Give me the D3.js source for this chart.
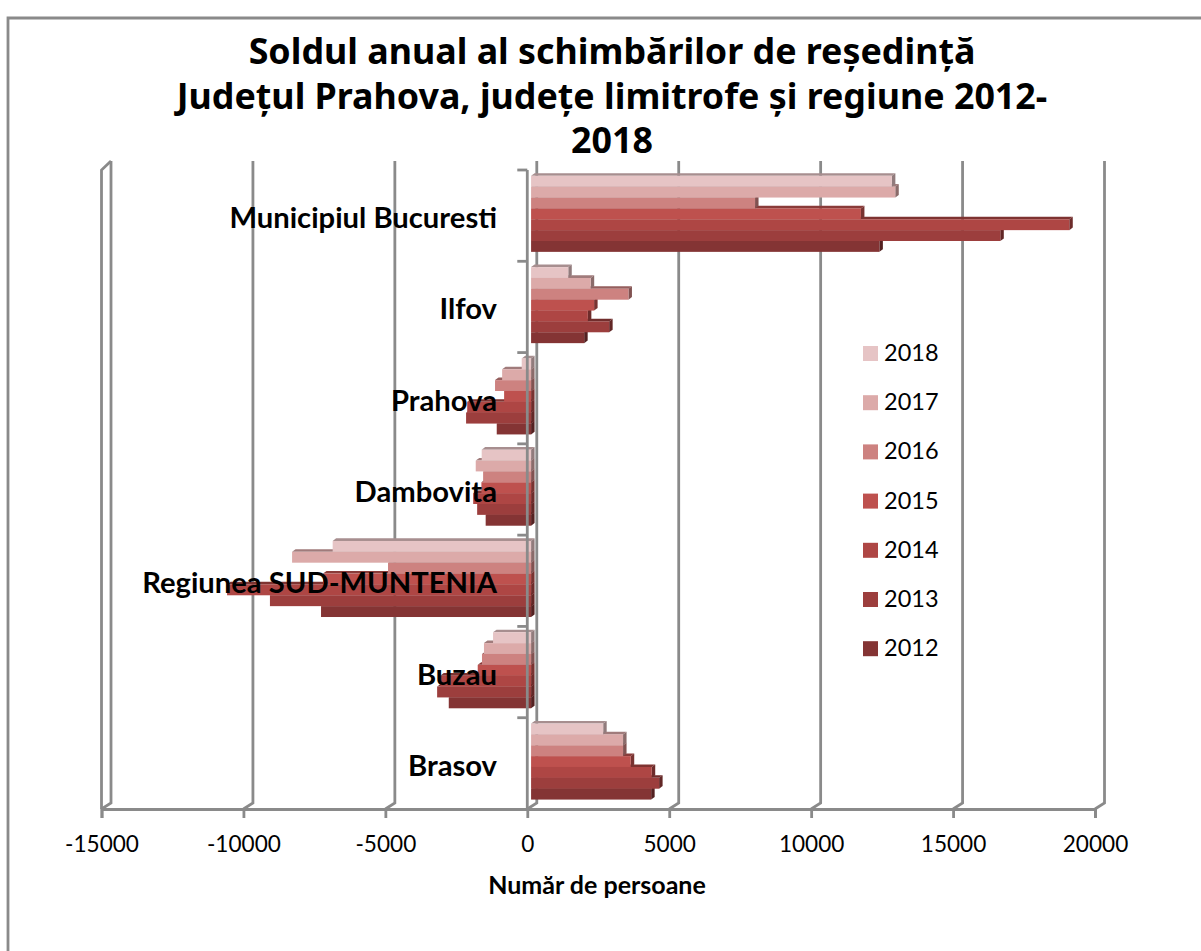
<!DOCTYPE html>
<html>
<head>
<meta charset="utf-8">
<script src="https://cdn.jsdelivr.net/npm/d3@7"></script>
<style>
  html, body { margin: 0; padding: 0; background: #fff; overflow: hidden; }
  svg { display: block; }
  text { fill: #000; }
</style>
</head>
<body>
<div id="chart"></div>
<script>
const categories = ['Municipiul Bucuresti', 'Ilfov', 'Prahova', 'Dambovita', 'Regiunea SUD-MUNTENIA', 'Buzau', 'Brasov']
const years = [2018, 2017, 2016, 2015, 2014, 2013, 2012]
const values2018 = [12710, 1310, -330, -1740, -6990, -1340, 2540]
const values2017 = [12830, 2100, -1020, -1950, -8420, -1660, 3240]
const values2016 = [7890, 3430, -1270, -1690, -5040, -1730, 3240]
const values2015 = [11620, 2220, -950, -1750, -7330, -1880, 3510]
const values2014 = [18960, 2000, -2250, -2040, -10710, -3200, 4250]
const values2013 = [16530, 2750, -2290, -1900, -9200, -3310, 4510]
const values2012 = [12270, 1870, -1210, -1600, -7400, -2900, 4230]
const yearColors = ['#e6c4c5', '#dcaaa9', '#cd8280', '#be514e', '#ae4644', '#9c3e3d', '#843434']
const xTicks = [-15000, -10000, -5000, 0, 5000, 10000, 15000, 20000]
const titleLines = ['Soldul anual al schimbărilor de reședință', 'Județul Prahova, județe limitrofe și regiune 2012-', '2018']

const seriesByYear = [values2018, values2017, values2016, values2015, values2014, values2013, values2012]

const SIZE = Object.freeze({ WIDTH: 1201, HEIGHT: 951 })
const PLOT = Object.freeze({ LEFT: 101.5, RIGHT: 1095, TOP: 170, BOTTOM: 809 })
const WALL = Object.freeze({ DX: 9.5, DY: -6, TOP: 161 })
const BAR = Object.freeze({ OFFSET_X: 3.8, OFFSET_Y: -1.8, DEPTH_X: 3.5, DEPTH_Y: -2.6 })
const LINE_COLOR = '#8a8a8a'
const LABEL_FONT = 'Lato, "Open Sans", sans-serif'

const xScale = d3.scaleLinear()
  .domain([xTicks[0], xTicks[xTicks.length - 1]])
  .range([PLOT.LEFT, PLOT.RIGHT])
const groupScale = d3.scaleBand()
  .domain(categories)
  .range([PLOT.TOP, PLOT.BOTTOM])
  .paddingInner(0.167)
  .paddingOuter(0.0835)
const barScale = d3.scaleBand()
  .domain(years)
  .range([0, groupScale.bandwidth()])

const svg = d3.select('#chart')
  .append('svg')
  .attr('width', SIZE.WIDTH)
  .attr('height', SIZE.HEIGHT)

// chart frame, it runs off the page on the right and at the bottom
svg.append('path')
  .attr('d', `M8,${SIZE.HEIGHT + 5}V18H${SIZE.WIDTH + 5}`)
  .attr('fill', 'none')
  .attr('stroke', LINE_COLOR)
  .attr('stroke-width', 2.8)

svg.append('g')
  .selectAll('text')
  .data(titleLines)
  .enter()
  .append('text')
  .attr('x', 612)
  .attr('y', (d, i) => 64 + i * 44.5)
  .attr('text-anchor', 'middle')
  .style('font', 'bold 35.8px "Noto Sans", sans-serif')
  .text(d => d)

// back wall lines
const wall = svg.append('g')
  .attr('fill', 'none')
  .attr('stroke', LINE_COLOR)
  .attr('stroke-width', 2.8)

wall.selectAll('path')
  .data(xTicks)
  .enter()
  .append('path')
  .attr('d', d => `M${xScale(d)},${PLOT.BOTTOM}L${xScale(d) + WALL.DX},${PLOT.BOTTOM + WALL.DY}V${WALL.TOP}`)

wall.append('path')
  .attr('d', `M${PLOT.LEFT},${PLOT.BOTTOM}V${PLOT.TOP}L${PLOT.LEFT + WALL.DX},${WALL.TOP}`)

// lower bars first, each bar above covers the top face of the one below
const bars = svg.append('g')
const zeroX = xScale(0) + BAR.OFFSET_X

years.slice().reverse().forEach(year => {
  const yearIndex = years.indexOf(year)
  const values = seriesByYear[yearIndex]
  const color = d3.color(yearColors[yearIndex])
  const layer = bars.append('g')
  const rows = categories.map((name, i) => ({
    left: Math.min(zeroX, xScale(values[i]) + BAR.OFFSET_X),
    right: Math.max(zeroX, xScale(values[i]) + BAR.OFFSET_X),
    top: groupScale(name) + barScale(year) + BAR.OFFSET_Y,
    height: barScale.bandwidth(),
  }))

  layer.selectAll('path.top')
    .data(rows)
    .enter()
    .append('path')
    .attr('class', 'top')
    .attr('fill', color.darker(0.9).formatHex())
    .attr('d', d => `M${d.left},${d.top}l${BAR.DEPTH_X},${BAR.DEPTH_Y}H${d.right + BAR.DEPTH_X}L${d.right},${d.top}Z`)

  layer.selectAll('path.side')
    .data(rows)
    .enter()
    .append('path')
    .attr('class', 'side')
    .attr('fill', color.darker(1.3).formatHex())
    .attr('d', d => `M${d.right},${d.top}l${BAR.DEPTH_X},${BAR.DEPTH_Y}v${d.height}l${-BAR.DEPTH_X},${-BAR.DEPTH_Y}Z`)

  layer.selectAll('rect')
    .data(rows)
    .enter()
    .append('rect')
    .attr('x', d => d.left)
    .attr('y', d => d.top)
    .attr('width', d => d.right - d.left)
    .attr('height', d => d.height)
    .attr('fill', color.formatHex())
})

// category axis sits in front of the bars, ticks fall between the groups
const categoryAxis = svg.append('g')
  .attr('fill', 'none')
  .attr('stroke', LINE_COLOR)
  .attr('stroke-width', 2.8)

categoryAxis.append('path')
  .attr('d', `M${xScale(0)},${PLOT.TOP}V${PLOT.BOTTOM}`)

categoryAxis.selectAll('line')
  .data(categories)
  .enter()
  .append('line')
  .attr('x1', xScale(0) - 10)
  .attr('x2', xScale(0))
  .attr('y1', d => groupScale(d) - groupScale.step() * groupScale.paddingInner() / 2)
  .attr('y2', d => groupScale(d) - groupScale.step() * groupScale.paddingInner() / 2)

svg.append('g')
  .selectAll('text')
  .data(categories)
  .enter()
  .append('text')
  .attr('x', 497)
  .attr('y', d => groupScale(d) + groupScale.bandwidth() / 2 + 12.5)
  .attr('text-anchor', 'end')
  .style('font', `bold 29.2px ${LABEL_FONT}`)
  .text(d => d)

// value axis
const xAxis = d3.axisBottom(xScale)
  .tickValues(xTicks)
  .tickFormat(d => String(d))
  .tickSize(9)
  .tickPadding(18)

const xAxisGroup = svg.append('g')
  .attr('transform', `translate(0, ${PLOT.BOTTOM})`)
  .call(xAxis)

xAxisGroup.select('.domain')
  .attr('stroke', LINE_COLOR)
  .attr('stroke-width', 2.8)
xAxisGroup.selectAll('.tick line')
  .attr('stroke', LINE_COLOR)
  .attr('stroke-width', 2.8)
xAxisGroup.selectAll('.tick text')
  .attr('fill', '#000')
  .style('font', `22.6px ${LABEL_FONT}`)

svg.append('text')
  .attr('x', 597)
  .attr('y', 894)
  .attr('text-anchor', 'middle')
  .style('font', `bold 25px ${LABEL_FONT}`)
  .text('Număr de persoane')

// legend
const legend = svg.append('g')
  .selectAll('g')
  .data(years)
  .enter()
  .append('g')
  .attr('transform', (d, i) => `translate(863, ${346 + i * 49.2})`)

legend.append('rect')
  .attr('width', 15)
  .attr('height', 15)
  .attr('fill', (d, i) => yearColors[i])

legend.append('text')
  .attr('x', 21)
  .attr('y', 15)
  .style('font', `23.5px ${LABEL_FONT}`)
  .text(d => d)
</script>
</body>
</html>
